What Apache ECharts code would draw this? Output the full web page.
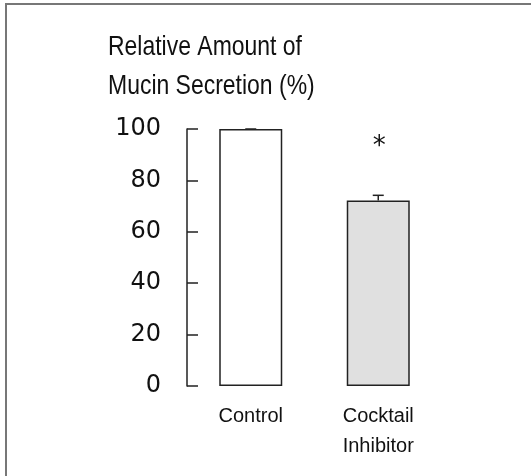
<!DOCTYPE html>
<html>
<head>
<meta charset="utf-8">
<script src="https://cdn.jsdelivr.net/npm/echarts@6/dist/echarts.min.js"></script>
<style>
  html, body { margin: 0; padding: 0; background: #fff; }
  #main { width: 531px; height: 476px; }
</style>
</head>
<body>
<div id="main"></div>
<script>
// data
var groups = ['Control', 'Cocktail\nInhibitor'];
var secretion = [100, 72.2];
var sem = [0, 2];
var marks = ['', '*'];
var yTicks = [0, 20, 40, 60, 80, 100];
var yTitle = 'Relative Amount of\nMucin Secretion (%)';

var chart = echarts.init(document.getElementById('main'));
var sans = '"Liberation Sans", Arial, sans-serif';

chart.setOption({
    backgroundColor: '#fff',
    animation: false,
    graphic: [
        { type: 'line', shape: { x1: 5, y1: 4, x2: 531, y2: 4 }, style: { stroke: '#777', lineWidth: 2 } },
        { type: 'line', shape: { x1: 6, y1: 4, x2: 6, y2: 476 }, style: { stroke: '#777', lineWidth: 2 } },
        {
            // condensed look of the original typeface
            type: 'text',
            x: 108,
            y: 28,
            scaleX: 0.82,
            style: {
                text: yTitle,
                fontFamily: sans,
                fontSize: 28,
                lineHeight: 39,
                fill: '#111',
                verticalAlign: 'top'
            }
        }
    ],
    grid: { left: 187, right: 89, top: 129, bottom: 90 },
    xAxis: {
        type: 'category',
        data: groups,
        axisLine: { show: false },
        axisTick: { show: false },
        axisLabel: {
            margin: 15,
            fontFamily: sans,
            fontSize: 20,
            lineHeight: 30,
            color: '#111'
        }
    },
    yAxis: {
        type: 'value',
        min: yTicks[0],
        max: yTicks[yTicks.length - 1],
        interval: 20,
        axisLine: { show: true, lineStyle: { color: '#222', width: 1.5 } },
        axisTick: { show: true, inside: true, length: 11, lineStyle: { color: '#222', width: 1.5 } },
        splitLine: { show: false },
        axisLabel: {
            margin: 26,
            fontFamily: '"DejaVu Sans", sans-serif',
            fontSize: 24,
            color: '#111'
        }
    },
    series: [{
        type: 'bar',
        data: secretion.map(function (v, i) {
            return {
                value: v,
                itemStyle: { color: i === 0 ? '#ffffff' : '#e0e0e0' }
            };
        }),
        barWidth: 63,
        itemStyle: { borderColor: '#222', borderWidth: 1.5 }
    }, {
        type: 'custom',
        data: secretion.map(function (v, i) { return [i, v, sem[i]]; }),
        renderItem: function (params, api) {
            var x = api.value(0);
            var top = api.coord([x, api.value(1) + api.value(2)]);
            var base = api.coord([x, api.value(1)]);
            var cap = 5.5;
            var children = [
                { type: 'line', shape: { x1: base[0], y1: base[1], x2: top[0], y2: top[1] }, style: { stroke: '#222', lineWidth: 1.5 } },
                { type: 'line', shape: { x1: top[0] - cap, y1: top[1], x2: top[0] + cap, y2: top[1] }, style: { stroke: '#222', lineWidth: 1.5 } }
            ];
            var m = marks[params.dataIndex];
            if (m) {
                var s = api.coord([x, 94]);
                children.push({
                    type: 'text',
                    x: s[0] + 1,
                    y: s[1] + 3,
                    style: {
                        text: m,
                        fontFamily: '"DejaVu Sans", sans-serif',
                        fontSize: 26,
                        fill: '#111',
                        align: 'center',
                        verticalAlign: 'middle'
                    }
                });
            }
            return { type: 'group', children: children };
        },
        z: 5
    }]
});
</script>
</body>
</html>
